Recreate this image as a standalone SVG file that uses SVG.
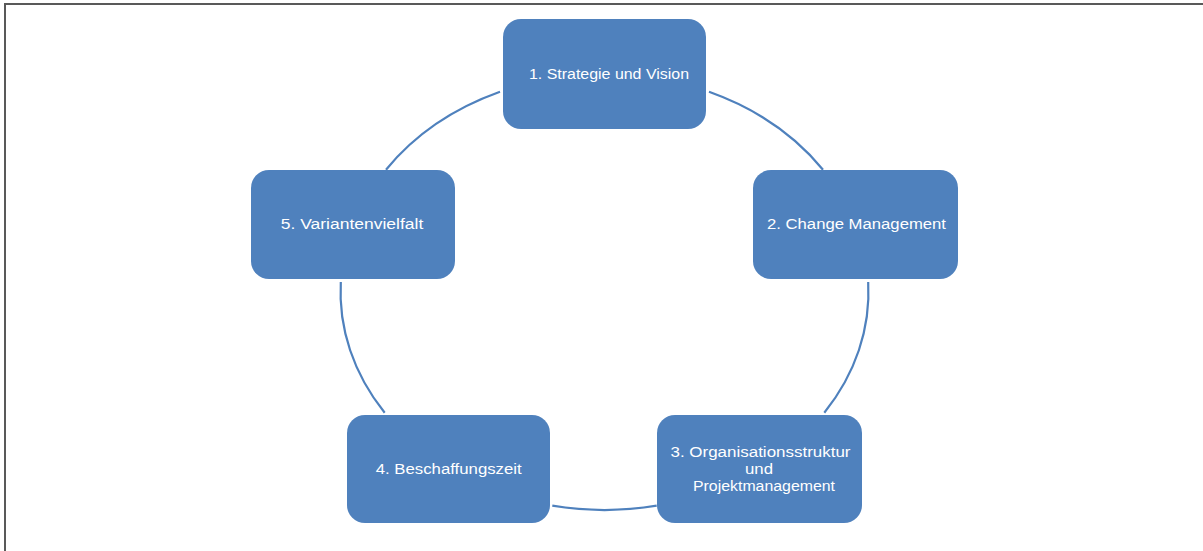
<svg xmlns="http://www.w3.org/2000/svg" width="1203" height="551" viewBox="0 0 1203 551">
<style>
.node{fill:#4F81BD;}
.lbl{fill:#FFFFFF;font-family:"Liberation Sans",Arial,sans-serif;font-size:14px;text-anchor:middle;}
.arc{fill:none;stroke:#4F81BD;stroke-width:2.2;}
</style>
<rect x="0" y="0" width="1203" height="551" fill="#FFFFFF"/>
<path d="M5,551 V4 H1203" fill="none" stroke="#595959" stroke-width="2"/>
<g id="connectors">
<path class="arc" d="M709,91.8 A264,218 0 0,1 823,169.7"/>
<path class="arc" d="M868.2,282 A264,218 0 0,1 824.3,412.7"/>
<path class="arc" d="M656.7,505.7 A264,218 0 0,1 552.3,505.7"/>
<path class="arc" d="M384.7,412.7 A264,218 0 0,1 340.8,282"/>
<path class="arc" d="M386,169.7 A264,218 0 0,1 500,91.8"/>
</g>
<g id="node1">
<rect class="node" x="503" y="19" width="203" height="110" rx="18"/>
<text class="lbl" x="609" y="79" textLength="160" lengthAdjust="spacingAndGlyphs">1. Strategie und Vision</text>
</g>
<g id="node2">
<rect class="node" x="753" y="170" width="205" height="109" rx="18"/>
<text class="lbl" x="856.5" y="229" textLength="179" lengthAdjust="spacingAndGlyphs">2. Change Management</text>
</g>
<g id="node3">
<rect class="node" x="657" y="415" width="205" height="108" rx="18"/>
<text class="lbl" x="760.5" y="457" textLength="180" lengthAdjust="spacingAndGlyphs">3. Organisationsstruktur</text>
<text class="lbl" x="759" y="474" textLength="28" lengthAdjust="spacingAndGlyphs">und</text>
<text class="lbl" x="764" y="491" textLength="142" lengthAdjust="spacingAndGlyphs">Projektmanagement</text>
</g>
<g id="node4">
<rect class="node" x="347" y="415" width="203" height="108" rx="18"/>
<text class="lbl" x="448.7" y="473.5" textLength="146" lengthAdjust="spacingAndGlyphs">4. Beschaffungszeit</text>
</g>
<g id="node5">
<rect class="node" x="251" y="170" width="204" height="109" rx="18"/>
<text class="lbl" x="352" y="229" textLength="142.6" lengthAdjust="spacingAndGlyphs">5. Variantenvielfalt</text>
</g>
</svg>
